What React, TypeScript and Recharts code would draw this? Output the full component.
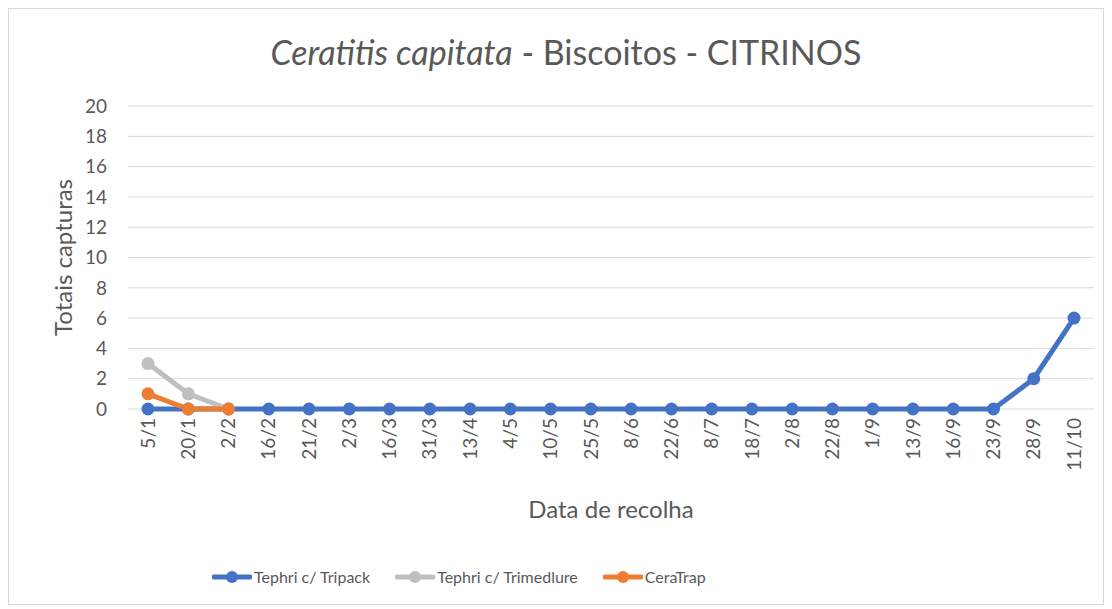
import * as React from "react";
import { CartesianGrid, Legend, Line, LineChart, XAxis, YAxis } from "recharts";

const dates = [
  "5/1", "20/1", "2/2", "16/2", "21/2", "2/3", "16/3", "31/3", "13/4", "4/5", "10/5", "25/5",
  "8/6", "22/6", "8/7", "18/7", "2/8", "22/8", "1/9", "13/9", "16/9", "23/9", "28/9", "11/10",
];
const tripack = [0, 0, 0, 0, 0, 0, 0, 0, 0, 0, 0, 0, 0, 0, 0, 0, 0, 0, 0, 0, 0, 0, 2, 6];
const trimedlure = [3, 1, 0];
const ceratrap = [1, 0, 0];
const yTicks = [0, 2, 4, 6, 8, 10, 12, 14, 16, 18, 20];

const series = [
  { key: "tripack", name: "Tephri c/ Tripack", color: "#4472C4" },
  { key: "trimedlure", name: "Tephri c/ Trimedlure", color: "#BFBFBF" },
  { key: "ceratrap", name: "CeraTrap", color: "#ED7D31" },
];

const data = dates.map((d, i) => ({
  date: d,
  tripack: tripack[i],
  trimedlure: i < trimedlure.length ? trimedlure[i] : null,
  ceratrap: i < ceratrap.length ? ceratrap[i] : null,
}));

const FONT = "Lato, 'Open Sans', sans-serif";
const TEXT = "#595959";

function XTick(props: any) {
  const { x, y, payload } = props;
  return (
    <text
      x={x}
      y={y}
      transform={`rotate(-90, ${x}, ${y})`}
      textAnchor="end"
      dy="0.35em"
      fill={TEXT}
      fontSize={19}
      fontFamily={FONT}
    >
      {payload.value}
    </text>
  );
}

function LegendContent() {
  return (
    <div style={{ display: "flex", gap: 25, fontFamily: FONT, fontSize: 16, color: TEXT }}>
      {series.map((s) => (
        <div key={s.key} style={{ display: "flex", alignItems: "center" }}>
          <svg width={40} height={16} style={{ marginRight: 2 }}>
            <line x1={2} y1={8} x2={38} y2={8} stroke={s.color} strokeWidth={5} strokeLinecap="round" />
            <circle cx={20} cy={8} r={6} fill={s.color} />
          </svg>
          <span>{s.name}</span>
        </div>
      ))}
    </div>
  );
}

export default function App() {
  return (
    <div
      style={{
        position: "relative",
        width: 1094,
        height: 595,
        border: "1px solid #D9D9D9",
        background: "#fff",
      }}
    >
      <div
        style={{
          position: "absolute",
          left: 0,
          top: 26,
          width: 1094,
          paddingLeft: 20,
          boxSizing: "border-box",
          textAlign: "center",
          fontFamily: FONT,
          fontSize: 34,
          lineHeight: 1,
          color: TEXT,
        }}
      >
        <span style={{ fontStyle: "italic" }}>Ceratitis capitata</span> - Biscoitos - CITRINOS
      </div>
      <LineChart width={1094} height={595} data={data} margin={{ top: 97, right: 9, left: 0, bottom: 0 }}>
        <CartesianGrid vertical={false} stroke="#D9D9D9" strokeWidth={1} />
        <XAxis
          dataKey="date"
          interval={0}
          height={176}
          padding={{ left: 20, right: 20 }}
          tick={<XTick />}
          tickLine={false}
          tickSize={0}
          tickMargin={9}
          axisLine={false}
          label={{
            content: (p: any) => (
              <text
                x={p.viewBox.x + p.viewBox.width / 2}
                y={p.viewBox.y + 99}
                textAnchor="middle"
                dominantBaseline="central"
                fill={TEXT}
                fontSize={24}
                fontFamily={FONT}
              >
                Data de recolha
              </text>
            ),
          }}
        />
        <YAxis
          width={119}
          domain={[0, 20]}
          ticks={yTicks}
          interval={0}
          axisLine={false}
          tickLine={false}
          tickSize={0}
          tickMargin={21}
          tick={{ fill: TEXT, fontSize: 19, fontFamily: FONT }}
          label={{
            content: (p: any) => {
              const cx = p.viewBox.x + 53;
              const cy = p.viewBox.y + p.viewBox.height / 2;
              return (
                <text
                  x={cx}
                  y={cy}
                  transform={`rotate(-90, ${cx}, ${cy})`}
                  textAnchor="middle"
                  dominantBaseline="central"
                  fill={TEXT}
                  fontSize={24}
                  fontFamily={FONT}
                >
                  Totais capturas
                </text>
              );
            },
          }}
        />
        <Legend
          verticalAlign="bottom"
          align="left"
          content={<LegendContent />}
          wrapperStyle={{ left: 203, bottom: 18, width: "auto" }}
        />
        {series.map((s) => (
          <Line
            key={s.key}
            dataKey={s.key}
            name={s.name}
            stroke={s.color}
            strokeWidth={5}
            dot={{ r: 6.5, fill: s.color, stroke: s.color, strokeWidth: 0 }}
            activeDot={false}
            isAnimationActive={false}
            type="linear"
          />
        ))}
      </LineChart>
    </div>
  );
}
